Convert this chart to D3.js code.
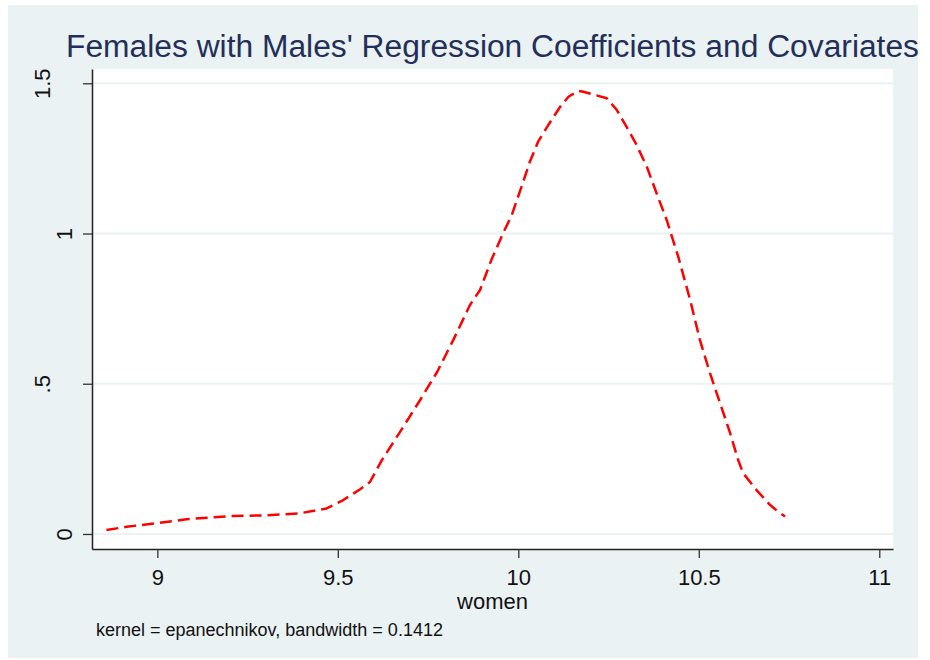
<!DOCTYPE html>
<html>
<head>
<meta charset="utf-8">
<script src="https://cdn.jsdelivr.net/npm/d3@7"></script>
<style>
  html, body { margin: 0; padding: 0; background: #ffffff; }
  svg { display: block; }
  text { font-family: "Liberation Sans", Arial, Helvetica, sans-serif; }
</style>
</head>
<body>
<svg id="chart" width="930" height="660"></svg>
<script>
// Kernel density estimate of log wages (women, using male coefficients)
const densityX = [8.859, 8.915, 8.998, 9.081, 9.211, 9.303, 9.395, 9.469, 9.515, 9.562,
                  9.589, 9.622, 9.672, 9.728, 9.775, 9.820, 9.866, 9.894, 9.926, 9.958,
                  9.982, 10.009, 10.032, 10.055, 10.083, 10.116, 10.139, 10.166, 10.180, 10.245,
                  10.273, 10.300, 10.328, 10.356, 10.383, 10.411, 10.443, 10.476, 10.503, 10.531,
                  10.559, 10.587, 10.609, 10.623, 10.660, 10.697, 10.716, 10.739];
const densityY = [0.013, 0.024, 0.036, 0.049, 0.060, 0.062, 0.069, 0.085, 0.113, 0.149,
                  0.173, 0.246, 0.339, 0.446, 0.539, 0.646, 0.762, 0.812, 0.914, 1.001,
                  1.062, 1.156, 1.239, 1.306, 1.361, 1.422, 1.455, 1.475, 1.472, 1.450,
                  1.411, 1.355, 1.294, 1.222, 1.134, 1.045, 0.923, 0.779, 0.646, 0.535,
                  0.435, 0.335, 0.246, 0.202, 0.146, 0.097, 0.078, 0.058];

const xTicks = [9, 9.5, 10, 10.5, 11];
const xTickLabels = ["9", "9.5", "10", "10.5", "11"];
const yTicks = [0, 0.5, 1, 1.5];
const yTickLabels = ["0", ".5", "1", "1.5"];

const titleText = "Females with Males' Regression Coefficients and Covariates";
const xTitle = "women";
const noteText = "kernel = epanechnikov, bandwidth = 0.1412";

const plot = { left: 92, right: 893, top: 69, bottom: 549 };

const svg = d3.select("#chart");

// outer graph region
svg.append("rect")
  .attr("x", 8).attr("y", 5)
  .attr("width", 910).attr("height", 653)
  .attr("fill", "#EAF2F3");

// plot region
svg.append("rect")
  .attr("x", plot.left).attr("y", plot.top)
  .attr("width", plot.right - plot.left).attr("height", plot.bottom - plot.top)
  .attr("fill", "#ffffff");

const x = d3.scaleLinear().domain([8.819, 11.038]).range([plot.left, plot.right]);
const y = d3.scaleLinear().domain([-0.05, 1.5475]).range([plot.bottom, plot.top]);

// horizontal grid lines
svg.append("g")
  .selectAll("line")
  .data(yTicks)
  .join("line")
  .attr("x1", plot.left).attr("x2", plot.right)
  .attr("y1", d => y(d)).attr("y2", d => y(d))
  .attr("stroke", "#EAF2F3")
  .attr("stroke-width", 2);

// density curve
const line = d3.line()
  .x((d, i) => x(densityX[i]))
  .y((d, i) => y(densityY[i]));

svg.append("path")
  .datum(densityX)
  .attr("d", line)
  .attr("fill", "none")
  .attr("stroke", "#FF0000")
  .attr("stroke-width", 2.5)
  .attr("stroke-dasharray", "12,6")
  .attr("stroke-linejoin", "round");

// x axis
const xAxis = svg.append("g")
  .attr("transform", `translate(0,${plot.bottom})`)
  .call(d3.axisBottom(x)
    .tickValues(xTicks)
    .tickFormat((d, i) => xTickLabels[i])
    .tickSize(9)
    .tickSizeOuter(0));
xAxis.select(".domain").attr("stroke", "#222").attr("stroke-width", 1.5);
xAxis.selectAll(".tick line").attr("stroke", "#333").attr("stroke-width", 1.3);
xAxis.selectAll(".tick text")
  .attr("y", 36).attr("dy", 0)
  .attr("fill", "#111")
  .style("font-size", "22px");

// y axis with vertical labels
const yAxis = svg.append("g")
  .attr("transform", `translate(${plot.left},0)`)
  .call(d3.axisLeft(y)
    .tickValues(yTicks)
    .tickFormat((d, i) => yTickLabels[i])
    .tickSize(9)
    .tickSizeOuter(0));
yAxis.select(".domain").attr("stroke", "#222").attr("stroke-width", 1.5);
yAxis.selectAll(".tick line").attr("stroke", "#333").attr("stroke-width", 1.3);
yAxis.selectAll(".tick text")
  .attr("x", null).attr("dy", null)
  .attr("text-anchor", "middle")
  // labels with a decimal point sit further from the axis
  .attr("transform", (d, i) => `translate(${yTickLabels[i].includes(".") ? -42 : -20},0) rotate(-90)`)
  .attr("fill", "#111")
  .style("font-size", "22px");

// axis title
svg.append("text")
  .attr("x", (plot.left + plot.right) / 2)
  .attr("y", 609)
  .attr("text-anchor", "middle")
  .attr("fill", "#111")
  .style("font-size", "22px")
  .text(xTitle);

// chart title
svg.append("text")
  .attr("x", (plot.left + plot.right) / 2)
  .attr("y", 57)
  .attr("text-anchor", "middle")
  .attr("fill", "#232F5A")
  .attr("textLength", 853)
  .attr("lengthAdjust", "spacingAndGlyphs")
  .style("font-size", "31px")
  .text(titleText);

// note
svg.append("text")
  .attr("x", 96)
  .attr("y", 636)
  .attr("fill", "#111")
  .style("font-size", "18px")
  .text(noteText);
</script>
</body>
</html>
